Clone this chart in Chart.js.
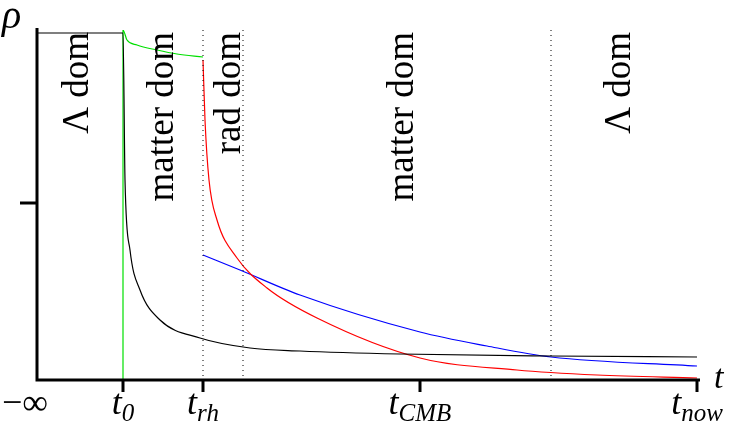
<!DOCTYPE html>
<html><head><meta charset="utf-8">
<script src="https://cdn.jsdelivr.net/npm/chart.js@4"></script>
<style>html,body{margin:0;background:#fff}</style>
</head><body>
<canvas id="c" width="737" height="426"></canvas>
<script>
// curves (arbitrary time / density units)
const blackPts = [[0,347],[86,347],[88,200],[93,130],[103,90],[123,60],[163,42],[213,32],[263,29],[363,26],[513,24],[660,23]];
const greenPts = [[86,0],[86,350],[90,340],[100,335],[120,330],[140,326],[166,323]];
const redPts = [[166,320],[168,260],[172,200],[180,160],[200,122],[230,92],[280,62],[383,22],[480,10],[560,5],[660,2]];
const bluePts = [[166,125],[203,110],[263,85],[383,48],[450,34],[514,23],[660,14]];
const tickPos = [0, 86, 166, 383, 660];
const tickNames = [["−∞",""],["t","0"],["t","rh"],["t","CMB"],["t","now"]];
const dottedAt = [166, 206, 514];
const eraLabels = [["Λ dom",41],["matter dom",126],["rad dom",193],["matter dom",366],["Λ dom",583]];

const toXY = a => a.map(p => ({x:p[0], y:p[1]}));
const ds = (pts, col) => ({data: toXY(pts), borderColor: col, borderWidth: 1.2, pointRadius: 0, fill: false, cubicInterpolationMode: 'monotone'});

const deco = {
  id: 'deco',
  afterDraw(chart) {
    const c = chart.ctx, xs = chart.scales.x, ys = chart.scales.y, a = chart.chartArea;
    c.save();
    // dotted lines
    c.strokeStyle = '#000'; c.lineWidth = 1; c.setLineDash([1,4]);
    dottedAt.forEach(v => { const px = xs.getPixelForValue(v); c.beginPath(); c.moveTo(px,a.top); c.lineTo(px,a.bottom); c.stroke(); });
    c.setLineDash([]);
    // axes
    c.lineWidth = 3;
    c.beginPath(); c.moveTo(a.left, a.top - 2); c.lineTo(a.left, a.bottom); c.lineTo(a.right + 3, a.bottom); c.stroke();
    tickPos.slice(1).forEach(v => { const px = xs.getPixelForValue(v); c.beginPath(); c.moveTo(px,a.bottom); c.lineTo(px,a.bottom+12); c.stroke(); });
    const ty = ys.getPixelForValue(177);
    c.beginPath(); c.moveTo(a.left-17, ty); c.lineTo(a.left, ty); c.stroke();
    // tick labels
    c.fillStyle = '#000'; c.textBaseline = 'alphabetic';
    const big = i => (i ? 'italic ' : '') + '36px "Liberation Serif"';
    const sub = 'italic 25px "Liberation Serif"';
    tickPos.forEach((v, i) => {
      const px = xs.getPixelForValue(v);
      const [m, s] = tickNames[i];
      c.font = big(i); const mw = c.measureText(m).width;
      c.font = sub; const sw = c.measureText(s).width;
      let x0 = px - (mw + sw) / 2;
      if (i === 0) x0 = 2;
      if (i === 4) x0 = Math.min(x0, 735 - mw - sw);
      c.font = big(i); c.fillText(m, x0, 414);
      c.font = sub; c.fillText(s, x0 + mw, 421);
    });
    c.font = 'italic 40px "Liberation Serif"';
    c.fillText('ρ', 2, 28);
    c.font = 'italic 34px "Liberation Serif"';
    c.fillText('t', 714, 388);
    // era labels
    c.font = '37px "Liberation Serif"'; c.textAlign = 'right'; c.textBaseline = 'middle';
    eraLabels.forEach(([txt, v]) => {
      c.save(); c.translate(xs.getPixelForValue(v), a.top + 2); c.rotate(-Math.PI/2);
      c.fillText(txt, 0, 0); c.restore();
    });
    c.restore();
  }
};

new Chart(document.getElementById('c'), {
  type: 'line',
  data: { datasets: [ds(blackPts,'#000'), ds(greenPts,'#00e000'), ds(redPts,'#ff0000'), ds(bluePts,'#0000ff')] },
  options: {
    responsive: false, animation: false,
    layout: { padding: { top: 30, right: 40 } },
    plugins: { legend: { display: false }, tooltip: { enabled: false } },
    scales: {
      x: { type: 'linear', min: 0, max: 660, grid: { display: false }, border: { display: false }, ticks: { display: false },
           afterFit: s => { s.height = 46; } },
      y: { min: 0, max: 350, grid: { display: false }, border: { display: false }, ticks: { display: false },
           afterFit: s => { s.width = 37; } }
    }
  },
  plugins: [deco]
});
</script>
</body></html>
